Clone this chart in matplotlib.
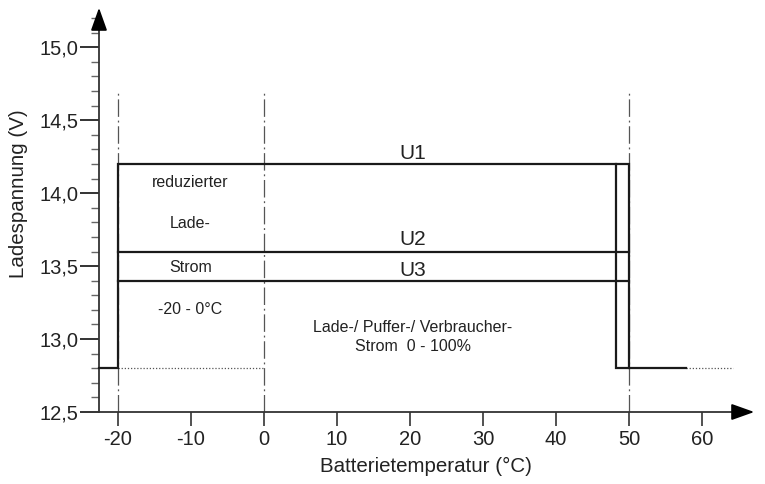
import matplotlib
matplotlib.use("Agg")
import matplotlib.pyplot as plt
import numpy as np

plt.rcParams['font.family'] = ['Liberation Sans', 'DejaVu Sans']

# Data
x_ticks = [-20, -10, 0, 10, 20, 30, 40, 50, 60]
x_ticklabels = ["-20", "-10", "0", "10", "20", "30", "40", "50", "60"]
y_ticks = [12.5, 13.0, 13.5, 14.0, 14.5, 15.0]
y_ticklabels = ["12,5", "13,0", "13,5", "14,0", "14,5", "15,0"]

# U1 outline
u1_x = [-22.6, -20, -20, 50, 50, 57.8]
u1_y = [12.8, 12.8, 14.2, 14.2, 12.8, 12.8]
inner_x = [48.2, 48.2, 50]
inner_y = [14.2, 12.8, 12.8]
u2_x = [-20, 50]
u2_y = [13.6, 13.6]
u3_x = [-20, 50]
u3_y = [13.4, 13.4]
dot1_x = [-20, 0]
dot1_y = [12.8, 12.8]
dot2_x = [57.8, 64.2]
dot2_y = [12.8, 12.8]
guide_x = [-20, 0, 50]
guide_top = 14.69

xmin, xmax = -22.6, 67.5
ymin, ymax = 12.5, 15.29

fig = plt.figure(figsize=(7.65, 4.84), dpi=100)
ax = fig.add_axes([99/765, (484-412)/484, 658/765, 407/484])
ax.set_xlim(xmin, xmax)
ax.set_ylim(ymin, ymax)
for s in ax.spines.values():
    s.set_visible(False)

# axes with arrows
axc = '#333333'
ax.plot([xmin, xmax - 2.6], [ymin, ymin], color=axc, lw=1.3, clip_on=False, zorder=3)
ax.plot([xmin, xmin], [ymin, ymax - 0.13], color=axc, lw=1.3, clip_on=False, zorder=3)
ax.annotate("", xy=(xmax, ymin), xytext=(xmax - 3.2, ymin),
            arrowprops=dict(arrowstyle="-|>,head_length=1.4,head_width=0.5", color='black', lw=1.3),
            annotation_clip=False)
ax.annotate("", xy=(xmin, ymax), xytext=(xmin, ymax - 0.16),
            arrowprops=dict(arrowstyle="-|>,head_length=1.4,head_width=0.5", color='black', lw=1.3),
            annotation_clip=False)

# guides
for gx in guide_x:
    ax.plot([gx, gx], [ymin, guide_top], color='#555555', lw=0.9,
            linestyle=(0, (14, 3, 1.5, 3)), zorder=1)

# dotted lines
ax.plot(dot1_x, dot1_y, color='#555555', lw=0.9, linestyle=(0, (1, 1.5)), zorder=2)
ax.plot(dot2_x, dot2_y, color='#555555', lw=0.9, linestyle=(0, (1, 1.5)), zorder=2)

lc = '#1a1a1a'
ax.plot(u1_x, u1_y, color=lc, lw=1.6, solid_joinstyle='miter', zorder=4, clip_on=False)
ax.plot(inner_x, inner_y, color=lc, lw=1.6, solid_joinstyle='miter', zorder=4)
ax.plot(u2_x, u2_y, color=lc, lw=1.6, zorder=4)
ax.plot(u3_x, u3_y, color=lc, lw=1.6, zorder=4)

# ticks
ax.set_xticks(x_ticks)
ax.set_xticklabels(x_ticklabels, fontsize=14.5, color='#222222')
ax.set_yticks(y_ticks)
ax.set_yticklabels(y_ticklabels, fontsize=14.5, color='#222222')
ax.set_yticks(np.arange(12.6, 15.25, 0.1), minor=True)
ax.tick_params(axis='x', which='major', direction='out', length=10, width=1.2, color=axc, pad=3)
ax.tick_params(axis='y', which='major', direction='out', length=14, width=1.4, color=axc, pad=1)
ax.tick_params(axis='y', which='minor', direction='out', length=6, width=1.0, color='#666666')
ax.tick_params(axis='x', which='minor', bottom=False)

fig.text(426/765, (484-466)/484, "Batterietemperatur (°C)", fontsize=14.8,
         ha='center', va='center', color='#222222')
fig.text(19/765, (484-194)/484, "Ladespannung (V)", fontsize=14.8, rotation=90,
         ha='center', va='center', color='#222222')

# texts
tc = '#222222'
ax.text(20.4, 14.27, "U1", fontsize=15, ha='center', va='center', color=tc)
ax.text(20.4, 13.68, "U2", fontsize=15, ha='center', va='center', color=tc)
ax.text(20.4, 13.47, "U3", fontsize=15, ha='center', va='center', color=tc)
ax.text(-10.1, 14.07, "reduzierter", fontsize=11.5, ha='center', va='center', color=tc)
ax.text(-10.1, 13.79, "Lade-", fontsize=11.5, ha='center', va='center', color=tc)
ax.text(-10.1, 13.49, "Strom", fontsize=11.5, ha='center', va='center', color=tc)
ax.text(-10.1, 13.2, "-20 - 0°C", fontsize=11.5, ha='center', va='center', color=tc)
ax.text(20.4, 13.08, "Lade-/ Puffer-/ Verbraucher-", fontsize=11.5, ha='center', va='center', color=tc)
ax.text(20.4, 12.95, "Strom  0 - 100%", fontsize=11.5, ha='center', va='center', color=tc)

fig.savefig("out.png", dpi=100)
